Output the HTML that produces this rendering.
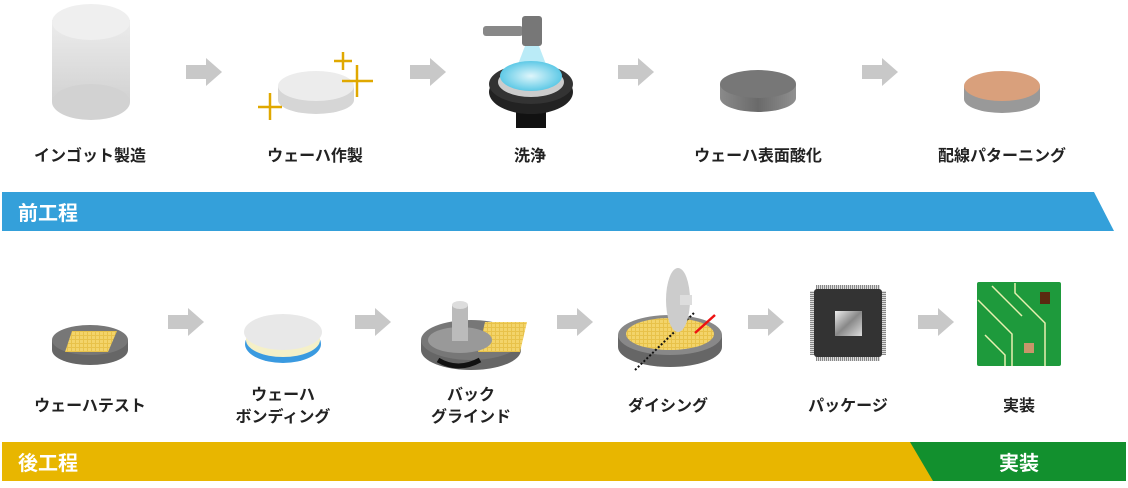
<!DOCTYPE html>
<html><head><meta charset="utf-8"><style>
body{margin:0;background:#fff;width:1128px;height:483px;overflow:hidden}
svg text{font-family:"Liberation Sans","Noto Sans CJK JP",sans-serif;font-weight:bold}
</style></head><body>
<svg width="1128" height="483" viewBox="0 0 1128 483" xmlns="http://www.w3.org/2000/svg">
<defs>
<linearGradient id="cyl" x1="0" y1="0" x2="0" y2="1"><stop offset="0" stop-color="#ececec"/><stop offset="1" stop-color="#d2d2d2"/></linearGradient>
<linearGradient id="dk" x1="0" x2="1"><stop offset="0" stop-color="#8a8a8a"/><stop offset=".5" stop-color="#6a6a6a"/><stop offset="1" stop-color="#909090"/></linearGradient>
<radialGradient id="water"><stop offset="0" stop-color="#dff6fb"/><stop offset="1" stop-color="#5ec9e6"/></radialGradient>
<linearGradient id="chipg" x1="0" y1="0" x2="1" y2="1"><stop offset="0" stop-color="#eee"/><stop offset=".5" stop-color="#888"/><stop offset="1" stop-color="#ddd"/></linearGradient>
<pattern id="grid" width="4" height="4" patternUnits="userSpaceOnUse"><rect width="4" height="4" fill="#e8c24a"/><rect width="3" height="3" fill="#f3d46a"/></pattern>
<pattern id="pins" width="2" height="2" patternUnits="userSpaceOnUse"><rect width="2" height="2" fill="#ddd"/><rect width="1" height="2" fill="#888"/></pattern>
<pattern id="pinsv" width="2" height="2" patternUnits="userSpaceOnUse"><rect width="2" height="2" fill="#ddd"/><rect width="2" height="1" fill="#888"/></pattern>
<g id="arr"><rect x="0" y="7" width="22" height="14" fill="#c8c8c8"/><polygon points="20,0 36,14 20,28" fill="#c8c8c8"/></g>
</defs>

<rect x="52" y="20" width="78" height="82" fill="url(#cyl)"/>
<ellipse cx="91" cy="102" rx="39" ry="18" fill="#d2d2d2"/>
<ellipse cx="91" cy="22" rx="39" ry="18" fill="#efefef"/>
<use href="#arr" x="186" y="58"/>
<path d="M278 86 v14 a38 14 0 0 0 76 0 v-14z" fill="#d6d6d6"/>
<ellipse cx="316" cy="86" rx="38" ry="15" fill="#ececec"/>
<g stroke="#e0a800" stroke-width="2.5"><line x1="343" y1="52" x2="343" y2="70"/><line x1="334" y1="61" x2="352" y2="61"/><line x1="357" y1="65" x2="357" y2="97"/><line x1="342" y1="81" x2="373" y2="81"/><line x1="270" y1="93" x2="270" y2="120"/><line x1="258" y1="107" x2="282" y2="107"/></g>
<use href="#arr" x="410" y="58"/>
<rect x="483" y="26" width="40" height="10" rx="3" fill="#888"/>
<rect x="522" y="16" width="20" height="30" rx="3" fill="#777"/>
<polygon points="525,46 539,46 552,80 512,80" fill="#a9e6f5" opacity=".8"/>
<rect x="516" y="102" width="30" height="26" fill="#111"/>
<ellipse cx="531" cy="92" rx="42" ry="22" fill="#222"/>
<ellipse cx="531" cy="84" rx="42" ry="20" fill="#333"/>
<ellipse cx="531" cy="82" rx="33" ry="15" fill="#ccc"/>
<ellipse cx="531" cy="76" rx="31" ry="15" fill="url(#water)"/>
<use href="#arr" x="618" y="58"/>
<path d="M720 84 v14 a38 14 0 0 0 76 0 v-14z" fill="url(#dk)"/>
<ellipse cx="758" cy="84" rx="38" ry="14" fill="#777"/>
<use href="#arr" x="862" y="58"/>
<path d="M964 86 v13 a38 14 0 0 0 76 0 v-13z" fill="#999"/>
<ellipse cx="1002" cy="86" rx="38" ry="15" fill="#d9a07c"/>
<text x="90" y="161" font-size="16" text-anchor="middle" fill="#222">インゴット製造</text>
<text x="315" y="161" font-size="16" text-anchor="middle" fill="#222">ウェーハ作製</text>
<text x="530" y="161" font-size="16" text-anchor="middle" fill="#222">洗浄</text>
<text x="758" y="161" font-size="16" text-anchor="middle" fill="#222">ウェーハ表面酸化</text>
<text x="1002" y="161" font-size="16" text-anchor="middle" fill="#222">配線パターニング</text>
<polygon points="2,192 1094,192 1114,231 2,231" fill="#34a0da"/>
<text x="18" y="220" font-size="20" fill="#fff">前工程</text>

<path d="M52 340 v10 a38 15 0 0 0 76 0 v-10z" fill="#666"/>
<ellipse cx="90" cy="340" rx="38" ry="15" fill="#777"/>
<polygon points="72,331 117,331 108,352 65,352" fill="url(#grid)"/>
<use href="#arr" x="168" y="308"/>
<ellipse cx="283" cy="344" rx="38" ry="19" fill="#3a9ae0"/>
<ellipse cx="283" cy="340" rx="37" ry="17" fill="#f5f0c8"/>
<ellipse cx="283" cy="332" rx="39" ry="18" fill="#e8e8e8"/>
<use href="#arr" x="355" y="308"/>
<path d="M421 340 v10 a50 20 0 0 0 100 0 v-10z" fill="#666"/>
<ellipse cx="471" cy="340" rx="50" ry="20" fill="#777"/>
<polygon points="485,322 527,322 520,352 478,352" fill="url(#grid)"/>
<ellipse cx="460" cy="340" rx="32" ry="13" fill="#999"/>
<rect x="452" y="305" width="16" height="36" fill="#bbb"/>
<ellipse cx="460" cy="305" rx="8" ry="4" fill="#ddd"/>
<path d="M438 360 q20 12 42 0" stroke="#111" stroke-width="5" fill="none"/>
<use href="#arr" x="557" y="308"/>
<path d="M618 335 v12 a52 20 0 0 0 104 0 v-12z" fill="#666"/>
<ellipse cx="670" cy="335" rx="52" ry="20" fill="#888"/>
<ellipse cx="670" cy="334" rx="44" ry="16" fill="url(#grid)"/>
<line x1="635" y1="370" x2="695" y2="312" stroke="#111" stroke-width="2" stroke-dasharray="2,2"/>
<ellipse cx="678" cy="300" rx="12" ry="32" fill="#ccc"/>
<rect x="680" y="295" width="12" height="10" fill="#ddd"/>
<line x1="715" y1="315" x2="695" y2="333" stroke="#e11" stroke-width="2.5"/>
<use href="#arr" x="748" y="308"/>
<rect x="816" y="285" width="64" height="5" fill="url(#pins)"/>
<rect x="816" y="356" width="64" height="5" fill="url(#pins)"/>
<rect x="810" y="291" width="5" height="64" fill="url(#pinsv)"/>
<rect x="881" y="291" width="5" height="64" fill="url(#pinsv)"/>
<rect x="814" y="289" width="68" height="68" fill="#333" rx="3"/>
<rect x="835" y="311" width="27" height="25" fill="url(#chipg)"/>
<use href="#arr" x="918" y="308"/>
<rect x="977" y="282" width="84" height="84" rx="2" fill="#1e9a3c"/>
<g stroke="#e8f0b0" stroke-width="1.5" fill="none"><path d="M992 286 l30 30"/><path d="M1015 283 v10 l30 30 v43"/><path d="M978 300 l34 34 v32"/><path d="M985 335 l20 20 v11"/></g>
<rect x="1040" y="292" width="10" height="12" fill="#5a2a10"/>
<rect x="1024" y="343" width="10" height="10" fill="#c9956a"/>
<text x="90" y="411" font-size="16" text-anchor="middle" fill="#222">ウェーハテスト</text>
<text x="283" y="400" font-size="16" text-anchor="middle" fill="#222">ウェーハ</text>
<text x="283" y="422" font-size="16" text-anchor="middle" fill="#222">ボンディング</text>
<text x="471" y="400" font-size="16" text-anchor="middle" fill="#222">バック</text>
<text x="471" y="422" font-size="16" text-anchor="middle" fill="#222">グラインド</text>
<text x="668" y="411" font-size="16" text-anchor="middle" fill="#222">ダイシング</text>
<text x="848" y="411" font-size="16" text-anchor="middle" fill="#222">パッケージ</text>
<text x="1019" y="411" font-size="16" text-anchor="middle" fill="#222">実装</text>
<rect x="2" y="442" width="1124" height="39" fill="#e8b600"/>
<polygon points="910,442 1126,442 1126,481 933,481" fill="#12902e"/>
<text x="18" y="470" font-size="20" fill="#fff">後工程</text>
<text x="1019" y="470" font-size="20" fill="#fff" text-anchor="middle">実装</text>
</svg>
</body></html>
